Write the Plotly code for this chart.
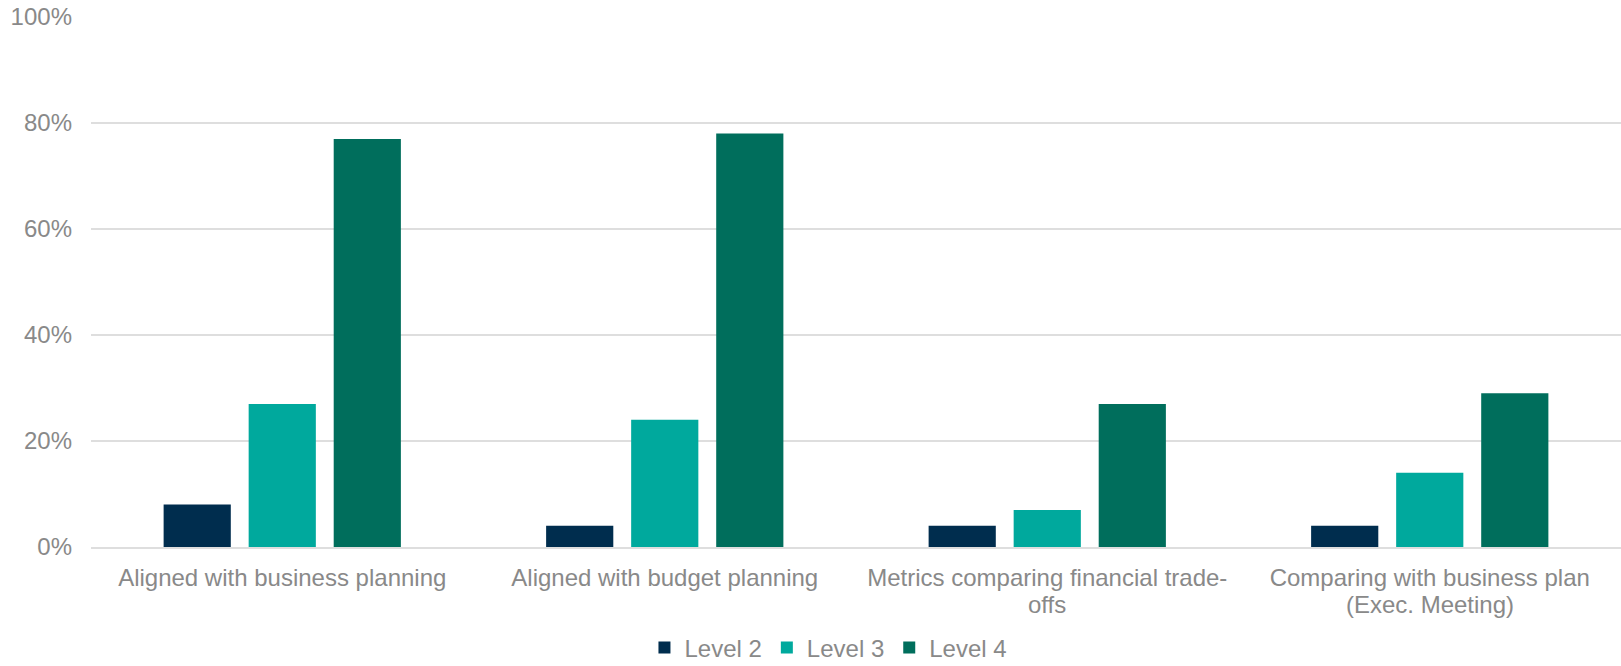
import plotly.graph_objects as go

categories = [
    "Aligned with business planning",
    "Aligned with budget planning",
    "Metrics comparing financial trade-",
    "Comparing with business plan",
]
categories_line2 = ["", "", "offs", "(Exec. Meeting)"]
series_names = ["Level 2", "Level 3", "Level 4"]
level2 = [0.08, 0.04, 0.04, 0.04]
level3 = [0.27, 0.24, 0.07, 0.14]
level4 = [0.77, 0.78, 0.27, 0.29]
colors = ["#002D4E", "#00A99D", "#006E5C"]
y_ticks = [0, 0.2, 0.4, 0.6, 0.8, 1.0]
y_ticktext = ["0%", "20%", "40%", "60%", "80%", "100%"]

FONT = "Liberation Sans, Arial, sans-serif"
GRAY = "#898989"

fig = go.Figure()
for name, vals, col in zip(series_names, [level2, level3, level4], colors):
    fig.add_trace(go.Bar(x=categories, y=vals, name=name, marker=dict(color=col, line=dict(width=0))))

for cat, line2 in zip(categories, categories_line2):
    if line2:
        fig.add_annotation(x=cat, xref="x", y=-0.109, yref="paper", text=line2,
                           showarrow=False, yanchor="middle", xanchor="center", borderpad=0,
                           font=dict(family=FONT, size=24, color=GRAY))

fig.update_layout(
    width=1621, height=666,
    margin=dict(l=91, r=0, t=17, b=119, autoexpand=False),
    plot_bgcolor="white", paper_bgcolor="white",
    barmode="group", bargap=0.333, bargroupgap=0.21,
    font=dict(family=FONT, size=24, color=GRAY),
    legend=dict(orientation="h", x=0.482, xanchor="center", y=-0.233, yanchor="bottom",
                font=dict(size=24, color=GRAY), itemclick=False, borderwidth=0),
    showlegend=True,
)
fig.update_yaxes(range=[0, 1], tickvals=y_ticks, ticktext=y_ticktext,
                 showgrid=True, gridcolor="#DEDEDE", gridwidth=1.5,
                 zeroline=False, showline=False, ticks="", ticklabelstandoff=18,
                 tickfont=dict(size=24, color=GRAY), automargin=False)
fig.update_xaxes(showline=True, linecolor="#DEDEDE", linewidth=1.5, ticks="",
                 tickfont=dict(size=24, color=GRAY), ticklabelstandoff=8, automargin=False)

fig.write_html("out.html")
